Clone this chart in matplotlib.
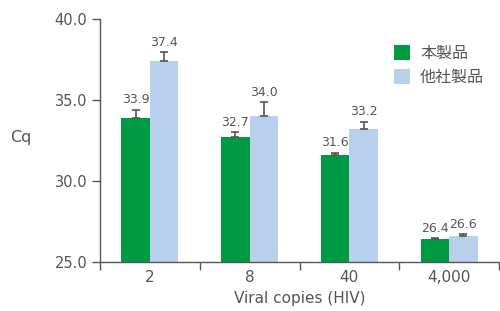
import matplotlib
matplotlib.use("Agg")
import matplotlib.pyplot as plt
import numpy as np
from matplotlib import font_manager

plt.rcParams['font.family'] = ['DejaVu Sans', 'Noto Sans CJK JP']
names = sorted({(f.name, f.weight) for f in font_manager.fontManager.ttflist if 'DejaVu' in f.name or 'Noto Sans CJK JP' in f.name or 'Open' in f.name})
print(names)

categories = ["2", "8", "40", "4,000"]
ours = [33.9, 32.7, 31.6, 26.4]
ours_err = [0.5, 0.3, 0.15, 0.07]
other = [37.4, 34.0, 33.2, 26.6]
other_err = [0.55, 0.85, 0.45, 0.1]
series_names = ["本製品", "他社製品"]

green = "#009a44"
blue = "#b9d0ec"
txt = "#555555"
axc = "#555555"

fig = plt.figure(figsize=(5.0, 3.11), dpi=100)
ax = fig.add_axes([0.2, 0.1576, 0.798, 0.7814])

x = np.arange(len(categories))
w = 0.285
ax.bar(x - w/2, [v - 25 for v in ours], w, bottom=25, color=green, label=series_names[0], zorder=2)
ax.bar(x + w/2, [v - 25 for v in other], w, bottom=25, color=blue, label=series_names[1], zorder=2)
ax.errorbar(x - w/2, ours, yerr=[np.zeros(4), ours_err], fmt='none', ecolor=axc, elinewidth=1.2, capsize=3, capthick=1.2, zorder=3)
ax.errorbar(x + w/2, other, yerr=[np.zeros(4), other_err], fmt='none', ecolor=axc, elinewidth=1.2, capsize=3, capthick=1.2, zorder=3)

for xi, v, e in zip(x - w/2, ours, ours_err):
    ax.text(xi, v + e + 0.22, f"{v:.1f}", ha='center', va='bottom', fontsize=9, color=txt)
for xi, v, e in zip(x + w/2, other, other_err):
    ax.text(xi, v + e + 0.22, f"{v:.1f}", ha='center', va='bottom', fontsize=9, color=txt)

ax.set_ylim(25, 40)
ax.set_xlim(-0.5, len(categories) - 0.5)
ax.set_yticks([25, 30, 35, 40])
ax.set_yticklabels([f"{t:.1f}" for t in [25, 30, 35, 40]])
ax.set_xticks(np.arange(len(categories) + 1) - 0.5)
ax.set_xticklabels([])
ax.set_xticks(x, minor=True)
ax.set_xticklabels(categories, minor=True)
ax.tick_params(axis='x', which='major', length=6, width=1, color=axc, direction='out')
ax.tick_params(axis='x', which='minor', length=0, labelsize=11, labelcolor=txt, pad=6)
ax.tick_params(axis='y', length=6, width=1, color=axc, labelsize=10.5, labelcolor=txt, pad=3)

for s in ['top', 'right']:
    ax.spines[s].set_visible(False)
for s in ['left', 'bottom']:
    ax.spines[s].set_color(axc)
    ax.spines[s].set_linewidth(1)

ax.set_xlabel("Viral copies (HIV)", fontsize=11, color=txt, labelpad=4)
fig.text(0.042, 0.558, "Cq", fontsize=11.5, color=txt, ha='center', va='center')

leg = ax.legend(loc='upper left', bbox_to_anchor=(0.72, 0.92), frameon=False,
                prop={'family': 'Noto Sans CJK JP', 'size': 11.5},
                handlelength=1.05, handleheight=1.05, handletextpad=0.6, labelspacing=0.45,
                borderaxespad=0)
for t in leg.get_texts():
    t.set_color(txt)

fig.savefig("out.png", dpi=100)
